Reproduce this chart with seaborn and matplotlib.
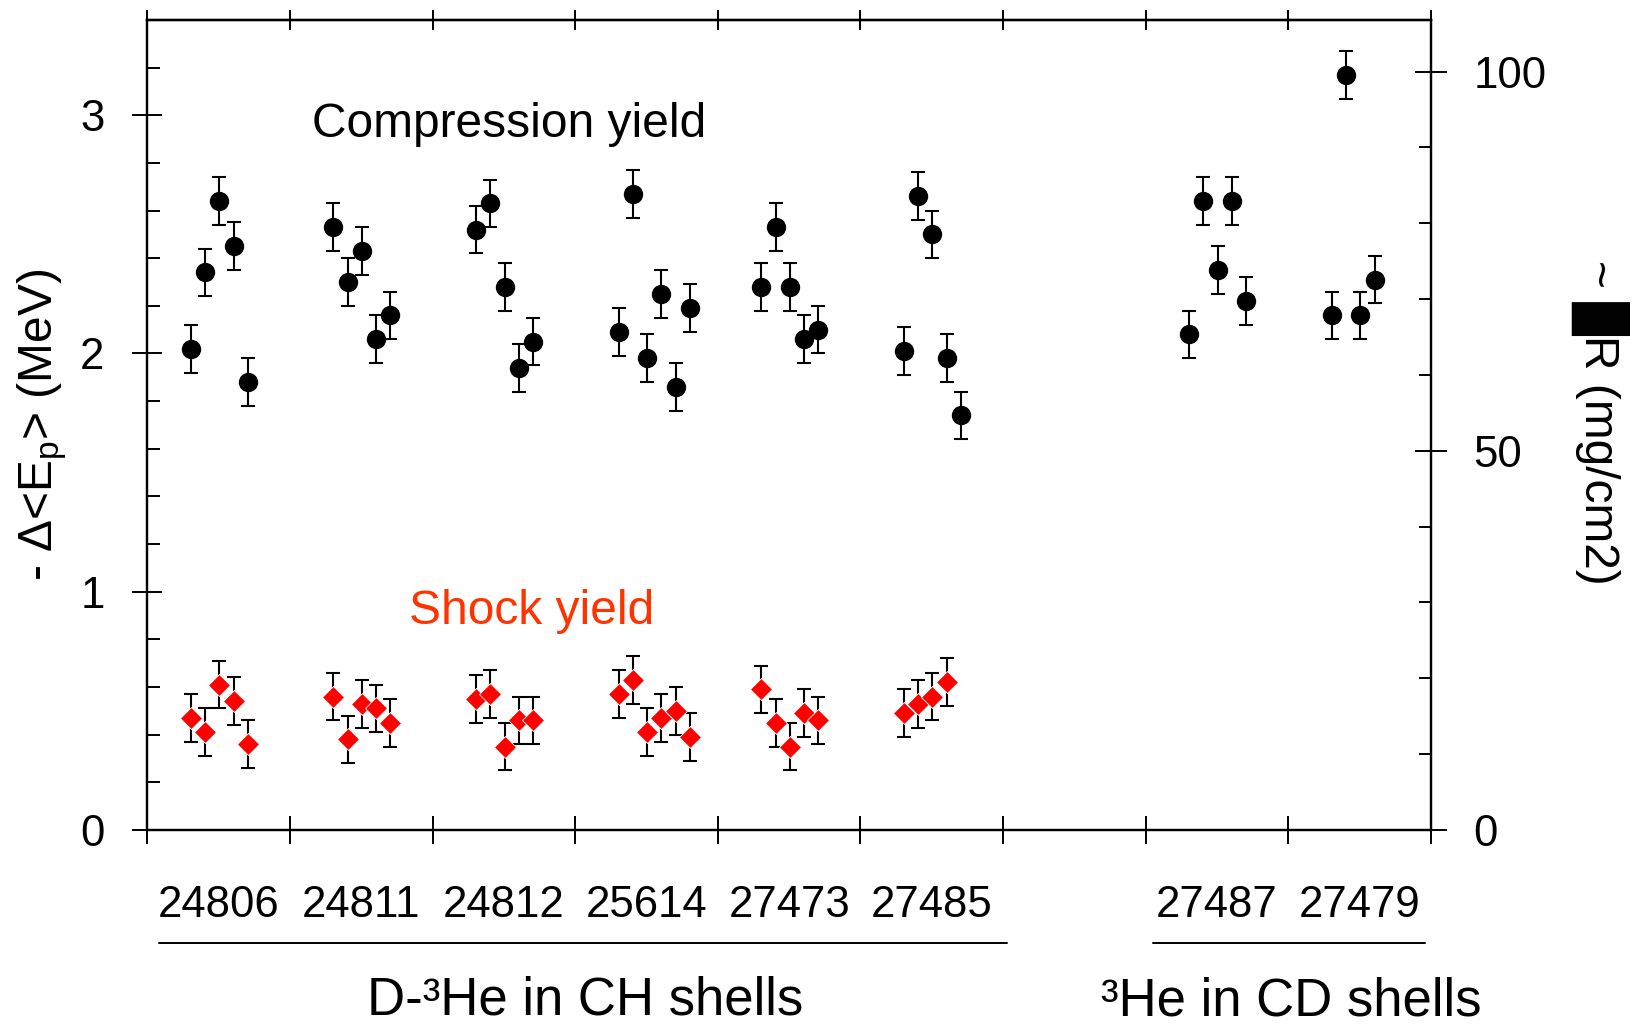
import numpy as np
import pandas as pd
import matplotlib
matplotlib.use("Agg")
import matplotlib.pyplot as plt
import matplotlib.transforms as mtransforms
from matplotlib.ticker import MultipleLocator, FixedLocator, NullFormatter
import seaborn as sns

# Shot numbers and the x slot each one occupies (slot 6 is left empty)
shot_labels = ["24806", "24811", "24812", "25614", "27473", "27485", "27487", "27479"]
shot_slots = [0, 1, 2, 3, 4, 5, 7, 8]

# -Delta<Ep> (MeV) for the compression-yield protons, one list per shot
compression_dE = [
    [2.02, 2.34, 2.64, 2.45, 1.88],
    [2.53, 2.30, 2.43, 2.06, 2.16],
    [2.52, 2.63, 2.28, 1.94, 2.05],
    [2.09, 2.67, 1.98, 2.25, 1.86, 2.19],
    [2.28, 2.53, 2.28, 2.06, 2.10],
    [2.01, 2.66, 2.50, 1.98, 1.74],
    [2.08, 2.64, 2.35, 2.64, 2.22],
    [2.16, 3.17, 2.16, 2.31],
]

# -Delta<Ep> (MeV) for the shock-yield protons (CH-shell shots only)
shock_dE = [
    [0.47, 0.41, 0.61, 0.54, 0.36],
    [0.56, 0.38, 0.53, 0.51, 0.45],
    [0.55, 0.57, 0.35, 0.46, 0.46],
    [0.57, 0.63, 0.41, 0.47, 0.50, 0.39],
    [0.59, 0.45, 0.35, 0.49, 0.46],
    [0.49, 0.53, 0.56, 0.62],
]

compression_err = 0.10
shock_err = 0.10

group_names = ["D-³He in CH shells", "³He in CD shells"]


def to_frame(groups, err):
    rows = []
    for slot, vals in zip(shot_slots, groups):
        for k, v in enumerate(vals):
            rows.append({"x": slot + 0.305 + 0.1 * k, "dE": v, "err": err})
    return pd.DataFrame(rows)


comp_df = to_frame(compression_dE, compression_err)
shock_df = to_frame(shock_dE, shock_err)

sns.set_theme(style="ticks")
plt.rcParams["font.family"] = ["Liberation Sans", "DejaVu Sans"]
plt.rcParams["mathtext.fontset"] = "custom"
plt.rcParams["mathtext.rm"] = "Liberation Sans"
plt.rcParams["mathtext.it"] = "Liberation Sans:italic"
plt.rcParams["axes.linewidth"] = 1.6
plt.rcParams["axes.edgecolor"] = "black"
plt.rcParams["text.color"] = "black"
plt.rcParams["axes.labelcolor"] = "black"
plt.rcParams["xtick.color"] = "black"
plt.rcParams["ytick.color"] = "black"
plt.rcParams["xtick.labelcolor"] = "black"
plt.rcParams["ytick.labelcolor"] = "black"

fig = plt.figure(figsize=(16.33, 10.24), dpi=100)
ax = fig.add_axes([0.0902, 0.1895, 0.7861, 0.791])

# error bars first, markers drawn on top
for df in (comp_df, shock_df):
    ax.errorbar(df["x"], df["dE"], yerr=df["err"], fmt="none", ecolor="black",
                elinewidth=1.5, capsize=5.2, capthick=1.5, zorder=2)

sns.scatterplot(data=comp_df, x="x", y="dE", marker="o", color="black",
                s=195, linewidth=0, ax=ax, zorder=3, legend=False)
sns.scatterplot(data=shock_df, x="x", y="dE", marker="D", color="#ff0000",
                s=125, edgecolor="white", linewidth=0.6, ax=ax, zorder=3,
                legend=False)

ax.set_xlim(0, 9)
ax.set_ylim(0, 3.40)
ax.set_xlabel("")
ax.set_ylabel("")

# x ticks: slot boundaries, no labels
ax.xaxis.set_major_locator(FixedLocator(range(10)))
ax.xaxis.set_major_formatter(NullFormatter())
ax.tick_params(axis="x", which="major", direction="inout", length=20,
               width=1.4, bottom=True, top=False, color="black")
top = ax.secondary_xaxis("top")
top.set_xticks(range(10))
top.set_xticklabels([])
top.tick_params(axis="x", direction="inout", length=14.4, width=1.4,
                color="black")

# left axis: energy loss
ax.yaxis.set_major_locator(MultipleLocator(1))
ax.yaxis.set_minor_locator(MultipleLocator(0.2))
ax.tick_params(axis="y", which="major", direction="inout", length=21.6,
               width=1.4, labelsize=31.5, pad=20, left=True, right=False,
               color="black", labelcolor="black")
ax.tick_params(axis="y", which="minor", direction="in", length=9.4,
               width=1.4, left=True, right=False, color="black")

# right axis: areal density
ax2 = ax.twinx()
ax2.set_ylim(0, 106.8)
ax2.yaxis.set_major_locator(MultipleLocator(50))
ax2.yaxis.set_minor_locator(MultipleLocator(10))
ax2.tick_params(axis="y", which="major", direction="inout", length=23,
                width=1.4, labelsize=31.5, pad=19, color="black",
                labelcolor="black")
ax2.tick_params(axis="y", which="minor", direction="in", length=9,
                width=1.4, color="black")
ax2.grid(False)

trans = mtransforms.blended_transform_factory(ax.transData, ax.transAxes)

for slot, lab in zip(shot_slots, shot_labels):
    ax.text(slot + 0.5, -0.1074, lab, transform=trans, ha="center",
            va="baseline", fontsize=31.5, color="black", clip_on=False)

# group brackets and names
ax.plot([0.082, 6.03], [-0.140, -0.140], transform=trans, color="black",
        lw=1.4, clip_on=False)
ax.plot([7.05, 8.96], [-0.140, -0.140], transform=trans, color="black",
        lw=1.4, clip_on=False)
ax.text(3.07, -0.2275, group_names[0], transform=trans, ha="center",
        va="baseline", fontsize=38, color="black", clip_on=False)
ax.text(8.02, -0.2285, group_names[1], transform=trans, ha="center",
        va="baseline", fontsize=38, color="black", clip_on=False)

# in-plot annotations
ax.text(2.536, 2.91, "Compression yield", ha="center", va="baseline",
        fontsize=34.5, color="black")
ax.text(2.693, 0.865, "Shock yield", ha="center", va="baseline",
        fontsize=34.5, color="#ff3300")

fig.text(0.0257, 0.585, r"- Δ<E$_{\mathrm{p}}$> (MeV)", rotation=90,
         ha="center", va="center", fontsize=34.5, color="black")
fig.text(0.980, 0.588, "~ █R (mg/cm2)", rotation=-90, ha="center",
         va="center", fontsize=34.5, color="black",
         family=["Liberation Sans", "DejaVu Sans"])

fig.savefig("out.png", dpi=100)
